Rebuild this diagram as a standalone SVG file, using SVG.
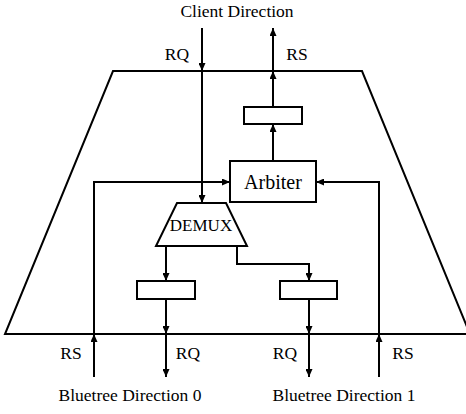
<svg xmlns="http://www.w3.org/2000/svg" width="466" height="414" viewBox="0 0 466 414">
<style>
.s{fill:none;stroke:#000;stroke-width:2}
.b{fill:#fff;stroke:#000;stroke-width:2}
.t{font-family:"Liberation Serif","Times New Roman",serif;font-size:17.5px;fill:#000;text-anchor:middle}
.w{stroke:#000;stroke-width:2;fill:none;marker-end:url(#ah)}
</style>
<defs>
<marker id="ah" markerUnits="userSpaceOnUse" markerWidth="8" markerHeight="7" refX="8" refY="3.5" orient="auto">
<path d="M0,0 L8,3.5 L0,7 z" fill="#000"/>
</marker>
</defs>
<g id="router">
<polygon class="s" points="113,71 362,71 470,334 5,334"/>
</g>
<g id="arbiter">
<rect class="b" x="230" y="161" width="86" height="41"/>
<text class="t" x="273" y="189" style="font-size:20px">Arbiter</text>
</g>
<g id="demux">
<polygon class="b" points="177,203 226,203 247,246 156,246"/>
<text class="t" x="201" y="231" style="font-size:17px">DEMUX</text>
</g>
<g id="reg-top"><rect class="b" x="244" y="107" width="58" height="17"/></g>
<g id="reg-left"><rect class="b" x="137" y="281" width="58" height="18"/></g>
<g id="reg-right"><rect class="b" x="280" y="281" width="57" height="18"/></g>
<g id="connectors">
<line class="w" x1="202" y1="28" x2="202" y2="71"/>
<line class="w" x1="202" y1="71" x2="202" y2="203"/>
<line class="w" x1="273" y1="161" x2="273" y2="124"/>
<line class="w" x1="273" y1="107" x2="273" y2="71"/>
<line class="w" x1="273" y1="71" x2="273" y2="28"/>
<line class="w" x1="94" y1="377" x2="94" y2="334"/>
<polyline class="w" points="94,334 94,182 230,182"/>
<line class="w" x1="379" y1="377" x2="379" y2="334"/>
<polyline class="w" points="379,334 379,182 316,182"/>
<line class="w" x1="166" y1="246" x2="166" y2="281"/>
<polyline class="w" points="237,246 237,264 309,264 309,281"/>
<line class="w" x1="166" y1="299" x2="166" y2="334"/>
<line class="w" x1="166" y1="334" x2="166" y2="377"/>
<line class="w" x1="309" y1="299" x2="309" y2="334"/>
<line class="w" x1="309" y1="334" x2="309" y2="377"/>
</g>
<g id="labels">
<text class="t" x="237" y="17">Client Direction</text>
<text class="t" x="177" y="60">RQ</text>
<text class="t" x="297" y="60">RS</text>
<text class="t" x="71" y="359">RS</text>
<text class="t" x="188" y="359">RQ</text>
<text class="t" x="285" y="359">RQ</text>
<text class="t" x="403" y="359">RS</text>
<text class="t" x="130" y="401">Bluetree Direction 0</text>
<text class="t" x="344" y="401">Bluetree Direction 1</text>
</g>
</svg>
